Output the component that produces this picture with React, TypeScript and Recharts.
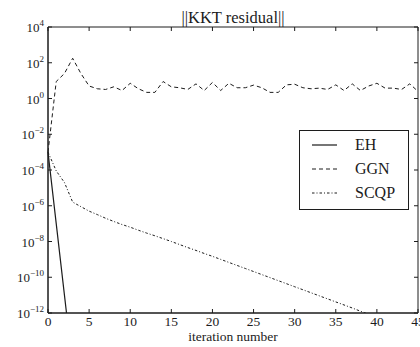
import React from 'react';
import {
  LineChart,
  Line,
  XAxis,
  YAxis,
  Legend,
  Label,
  ReferenceArea,
} from 'recharts';

// iteration numbers on the x axis
const iterations = [
  0, 1, 2, 3, 4, 5, 6, 7, 8, 9, 10, 11, 12, 13, 14, 15, 16, 17, 18, 19, 20, 21, 22,
  23, 24, 25, 26, 27, 28, 29, 30, 31, 32, 33, 34, 35, 36, 37, 38, 39, 40, 41, 42, 43,
  44, 45,
];

// ||KKT residual|| per method
const ehValues = [1e-3, 1e-7, 1e-11, 1e-15];

const ggnValues = [
  1e-3, 8.9, 25, 178, 25, 5.0, 3.5, 3.2, 4.5, 2.8, 7.1, 3.5, 2.2, 2.2, 8.9, 4.5, 4.0,
  3.2, 6.6, 2.8, 7.9, 2.8, 7.1, 4.0, 4.0, 5.6, 4.0, 2.2, 2.2, 5.8, 6.3, 4.0, 3.5, 3.8,
  3.2, 5.8, 2.8, 6.6, 2.8, 5.0, 7.1, 3.8, 3.8, 3.2, 6.6, 2.5,
];

const scqpValues = [
  1e-3, 8.9e-5, 2.0e-5, 1.6e-6, 8.9e-7, 5.0e-7, 3.2e-7, 2.0e-7, 1.32e-7, 8.9e-8,
  6.3e-8, 4.27e-8, 2.95e-8, 2.09e-8, 1.45e-8, 1.0e-8, 6.76e-9, 4.57e-9, 3.16e-9,
  2.14e-9, 1.48e-9, 1.0e-9, 6.76e-10, 4.57e-10, 3.09e-10, 2.09e-10, 1.41e-10,
  9.55e-11, 6.46e-11, 4.37e-11, 2.95e-11, 2.0e-11, 1.35e-11, 9.12e-12, 6.17e-12,
  4.17e-12, 2.82e-12, 1.91e-12, 1.26e-12, 8.5e-13,
];

const xTicks = [0, 5, 10, 15, 20, 25, 30, 35, 40, 45];
const yTicks = [1e-12, 1e-10, 1e-8, 1e-6, 1e-4, 1e-2, 1e0, 1e2, 1e4];

const seriesNames = ['EH', 'GGN', 'SCQP'];
const seriesDash = ['', '4 3', '2.5 2 1 2'];

const data = iterations.map((it, i) => ({
  it,
  EH: ehValues[i] ?? null,
  GGN: ggnValues[i] ?? null,
  SCQP: scqpValues[i] ?? null,
}));

const FONT = '"Liberation Serif", "DejaVu Serif", serif';
const INK = '#1c1c1c';

// plot box size, used to mirror the inward ticks onto the top and right edges
const PLOT_W = 370;
const PLOT_H = 286;

const YTick = (props: any) => {
  const { x, y, payload } = props;
  const exp = Math.round(Math.log10(payload.value));
  const expText = exp < 0 ? `\u2212${-exp}` : `${exp}`;
  return (
    <g>
      <line x1={x + 4} x2={x + 8} y1={y} y2={y} stroke={INK} strokeWidth={1} />
      <line x1={x + 4 + PLOT_W} x2={x + PLOT_W} y1={y} y2={y} stroke={INK} strokeWidth={1} />
      <text x={x} y={y + 5} textAnchor="end" fontFamily={FONT} fontSize={13} fill={INK}>
        10
        <tspan dy={-6} fontSize={9}>
          {expText}
        </tspan>
      </text>
    </g>
  );
};

const XTick = (props: any) => {
  const { x, y, payload } = props;
  return (
    <g>
      <line x1={x} x2={x} y1={y} y2={y - 4} stroke={INK} strokeWidth={1} />
      <line x1={x} x2={x} y1={y - PLOT_H} y2={y - PLOT_H + 4} stroke={INK} strokeWidth={1} />
      <text x={x} y={y + 13} textAnchor="middle" fontFamily={FONT} fontSize={13.5} fill={INK}>
        {payload.value}
      </text>
    </g>
  );
};

const renderLegend = () => (
  <div
    style={{
      boxSizing: 'border-box',
      width: 110,
      height: 80,
      border: `1px solid ${INK}`,
      background: '#fff',
      paddingTop: 2,
      fontFamily: FONT,
      fontSize: 16,
      color: INK,
    }}
  >
    {seriesNames.map((name, i) => (
      <div key={name} style={{ display: 'flex', alignItems: 'center', height: 24 }}>
        <svg width={25} height={4} style={{ marginLeft: 12, marginRight: 18 }}>
          <line
            x1={0}
            x2={25}
            y1={2}
            y2={2}
            stroke={INK}
            strokeWidth={i === 0 ? 1.2 : 1}
            strokeDasharray={seriesDash[i] || undefined}
          />
        </svg>
        <span>{name}</span>
      </div>
    ))}
  </div>
);

export default function App() {
  return (
    <div style={{ position: 'absolute', left: 0, top: 0, background: '#fff' }}>
      <LineChart
        width={420}
        height={347}
        data={data}
        margin={{ top: 27, right: 2, bottom: 0, left: 0 }}
      >
        <XAxis
          dataKey="it"
          type="number"
          domain={[0, 45]}
          ticks={xTicks}
          interval={0}
          height={34}
          stroke={INK}
          tickSize={0}
          tickMargin={0}
          tickLine={false}
          tick={<XTick />}
        >
          <Label
            value="iteration number"
            position="insideBottom"
            offset={6}
            style={{ fontFamily: FONT, fontSize: 13.5, fill: INK }}
          />
        </XAxis>
        <YAxis
          scale="log"
          domain={[1e-12, 1e4]}
          allowDataOverflow
          ticks={yTicks}
          interval={0}
          width={48}
          stroke={INK}
          tickSize={0}
          tickMargin={4}
          tickLine={false}
          tick={<YTick />}
        />
        <ReferenceArea
          x1={0}
          x2={45}
          y1={1e-12}
          y2={1e4}
          fill="none"
          fillOpacity={0}
          stroke={INK}
          strokeWidth={1}
          strokeOpacity={1}
          ifOverflow="visible"
        >
          <Label
            value="||KKT residual||"
            position="top"
            offset={4}
            style={{ fontFamily: FONT, fontSize: 16.5, fill: INK }}
          />
        </ReferenceArea>
        <Legend
          layout="vertical"
          align="center"
          verticalAlign="middle"
          content={renderLegend}
          wrapperStyle={{ position: 'absolute', left: 299, top: 130, width: 110, height: 80 }}
        />
        {seriesNames.map((name, i) => (
          <Line
            key={name}
            dataKey={name}
            type="linear"
            stroke={INK}
            strokeWidth={i === 0 ? 1.2 : 1}
            strokeDasharray={seriesDash[i] || undefined}
            dot={false}
            activeDot={false}
            connectNulls={false}
            isAnimationActive={false}
          />
        ))}
      </LineChart>
    </div>
  );
}
